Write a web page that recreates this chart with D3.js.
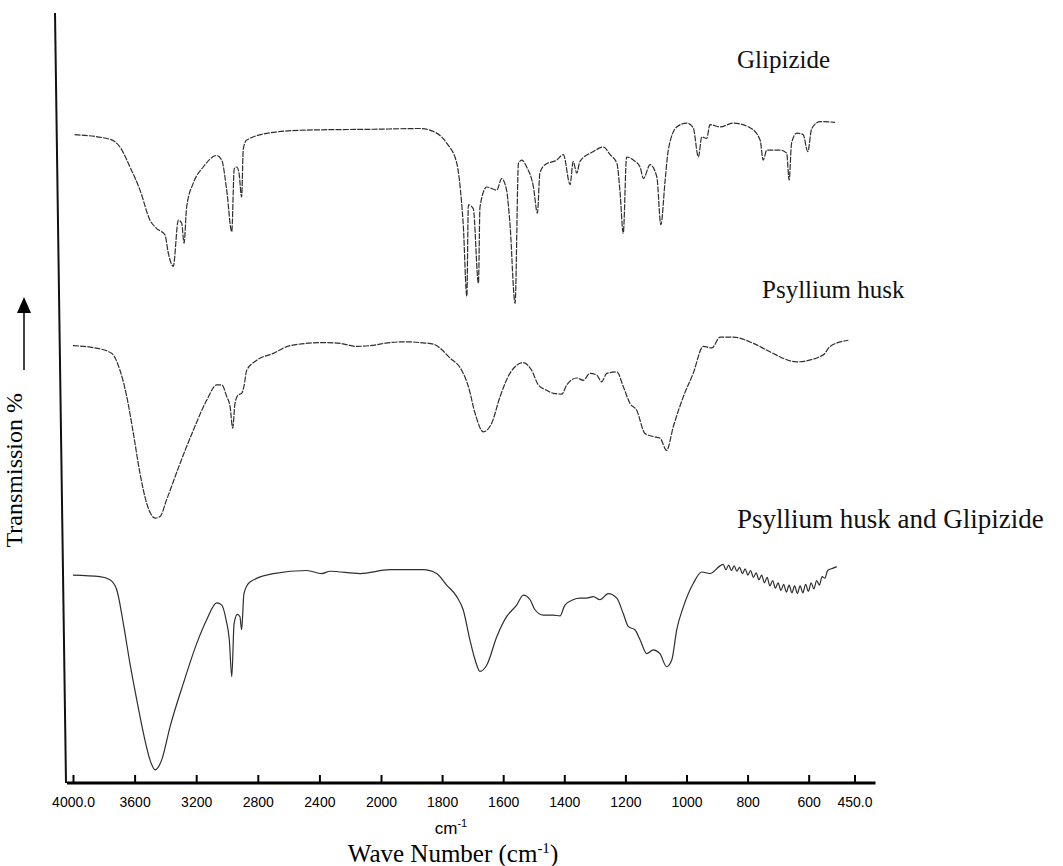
<!DOCTYPE html>
<html>
<head>
<meta charset="utf-8">
<script src="https://cdn.jsdelivr.net/npm/d3@7"></script>
<style>
  body { margin: 0; background: #fff; }
  svg { display: block; }
  .tick text { font-family: "Liberation Sans", Arial, sans-serif; font-size: 14px; }
  .serif { font-family: "Liberation Serif", "Times New Roman", serif; }
</style>
</head>
<body>
<div class="canvas"></div>
<script>
// spectra as [wavenumber cm-1, transmission (stacked, arbitrary %)]
const glipizide = [
  [3990, 84.2], [3760, 83.6], [3695, 82.6], [3630, 80.0], [3565, 77.0], [3500, 73.1],
  [3456, 72.0], [3403, 71.2], [3381, 68.8], [3349, 67.1], [3316, 73.1], [3294, 72.7],
  [3279, 70.1], [3262, 74.8], [3219, 77.9], [3154, 80.0], [3067, 81.5], [3034, 80.9],
  [3002, 77.0], [2969, 71.6], [2953, 79.8], [2937, 80.0], [2922, 79.2], [2905, 76.1],
  [2894, 82.4], [2872, 83.5], [2699, 84.5], [2482, 84.8], [2050, 84.9], [1872, 85.0],
  [1818, 84.4], [1785, 83.1], [1752, 80.5], [1736, 75.3], [1731, 72.7], [1719, 63.2],
  [1714, 75.1], [1698, 74.6], [1681, 64.9], [1676, 74.8], [1654, 77.4], [1621, 77.0],
  [1605, 78.5], [1589, 77.0], [1578, 72.7], [1561, 62.3], [1550, 80.5], [1539, 80.9],
  [1523, 80.0], [1501, 77.4], [1488, 74.0], [1480, 79.2], [1463, 80.3], [1425, 80.9],
  [1403, 81.6], [1381, 77.7], [1371, 80.7], [1359, 79.2], [1349, 80.7], [1305, 82.0],
  [1272, 82.6], [1250, 81.6], [1228, 80.5], [1218, 77.0], [1207, 71.4], [1196, 81.3],
  [1174, 80.9], [1152, 80.0], [1141, 78.5], [1119, 80.3], [1097, 78.7], [1084, 72.5],
  [1070, 78.2], [1060, 82.1], [1032, 85.2], [999, 85.7], [978, 85.1], [961, 81.3],
  [950, 83.9], [934, 83.7], [923, 85.5], [890, 85.2], [847, 85.7], [792, 85.1],
  [759, 83.5], [749, 80.9], [737, 82.2], [694, 82.2], [672, 81.8], [664, 78.3],
  [656, 83.1], [639, 84.4], [618, 84.2], [603, 82.0], [590, 85.0], [563, 85.9], [514, 85.8]
];

const psyllium = [
  [4000, 56.8], [3857, 56.5], [3749, 55.8], [3695, 53.6], [3651, 50.2], [3608, 45.4],
  [3565, 40.2], [3521, 36.3], [3467, 34.4], [3435, 34.6], [3392, 36.8], [3305, 41.5],
  [3219, 45.8], [3132, 49.7], [3067, 51.7], [3034, 51.7], [3002, 50.2], [2980, 48.9],
  [2963, 46.1], [2948, 49.3], [2927, 50.4], [2905, 50.6], [2890, 51.5], [2872, 53.6],
  [2807, 54.9], [2699, 55.8], [2591, 56.8], [2375, 57.2], [2266, 57.1], [2158, 56.7],
  [2071, 56.8], [1970, 57.2], [1916, 57.3], [1872, 57.2], [1829, 57.0], [1774, 55.2],
  [1736, 53.6], [1714, 51.5], [1692, 48.0], [1665, 45.6], [1638, 46.7], [1610, 50.2],
  [1578, 53.2], [1534, 54.6], [1507, 53.6], [1485, 51.7], [1458, 51.0], [1436, 50.6],
  [1408, 50.5], [1392, 51.7], [1359, 52.6], [1338, 52.3], [1316, 53.2], [1294, 53.0],
  [1278, 52.1], [1261, 53.2], [1228, 53.4], [1207, 51.5], [1185, 49.3], [1163, 48.4],
  [1136, 45.4], [1109, 45.0], [1087, 44.8], [1065, 43.2], [1043, 46.3], [1010, 50.2],
  [978, 53.2], [945, 56.7], [917, 56.5], [890, 57.9], [847, 57.9], [781, 57.1],
  [727, 56.0], [639, 54.7], [552, 55.6], [530, 56.7], [470, 57.5]
];

const mixture = [
  [4000, 27.0], [3825, 26.8], [3760, 26.4], [3716, 25.1], [3673, 20.7], [3630, 15.5],
  [3586, 10.8], [3543, 6.5], [3500, 3.0], [3467, 1.7], [3424, 3.0], [3370, 7.3],
  [3284, 12.9], [3197, 18.1], [3132, 21.2], [3067, 23.4], [3034, 23.1], [3006, 21.2],
  [2985, 18.6], [2969, 13.8], [2954, 20.7], [2933, 21.9], [2916, 21.6], [2905, 19.9],
  [2890, 24.6], [2851, 26.1], [2699, 27.2], [2482, 27.6], [2385, 27.2], [2331, 27.5],
  [2136, 27.2], [1970, 27.7], [1862, 27.7], [1818, 27.2], [1785, 25.7], [1752, 24.2],
  [1731, 22.5], [1709, 18.6], [1692, 16.0], [1676, 14.5], [1654, 15.3], [1621, 19.0],
  [1589, 21.6], [1556, 23.1], [1534, 24.4], [1512, 23.8], [1496, 22.5], [1469, 21.8],
  [1436, 21.8], [1414, 21.7], [1398, 23.1], [1371, 23.8], [1349, 24.0], [1327, 24.0],
  [1305, 24.2], [1283, 23.8], [1256, 24.6], [1228, 24.0], [1207, 22.0], [1190, 20.3],
  [1169, 19.9], [1152, 18.6], [1130, 16.8], [1109, 17.3], [1087, 16.8], [1065, 15.1],
  [1048, 16.0], [1032, 19.9], [1010, 22.9], [978, 25.9], [950, 27.4], [923, 27.2],
  [890, 28.2], [880, 28.4], [871, 27.7], [862, 28.3], [853, 27.6], [844, 28.2],
  [835, 27.5], [826, 28.0], [817, 27.2], [808, 27.8], [799, 27.0], [790, 27.6],
  [781, 26.7], [772, 27.3], [763, 26.4], [754, 27.0], [745, 26.0], [736, 26.7],
  [727, 25.6], [718, 26.3], [709, 25.3], [700, 26.0], [691, 25.0], [682, 25.8],
  [673, 24.8], [664, 25.7], [655, 24.7], [646, 25.6], [637, 24.6], [628, 25.6],
  [619, 24.7], [610, 25.8], [601, 24.9], [592, 26.0], [583, 25.2], [574, 26.3],
  [565, 25.7], [556, 26.8], [547, 26.6], [538, 27.6], [520, 27.9], [508, 28.1]
];

const seriesNames = ['Glipizide', 'Psyllium husk', 'Psyllium husk and Glipizide'];
const tickValues = [4000, 3600, 3200, 2800, 2400, 2000, 1800, 1600, 1400, 1200, 1000, 800, 600, 450];
const tickLabels = ['4000.0', '3600', '3200', '2800', '2400', '2000', '1800', '1600', '1400', '1200', '1000', '800', '600', '450.0'];

const dims = { width: 1063, height: 866 };
const plot = { top: 13, bottom: 783 };

const svg = d3.select('.canvas')
  .append('svg')
  .attr('width', dims.width)
  .attr('height', dims.height);

// FTIR style axis: scale doubles below 2000 cm-1
const x = d3.scaleLinear()
  .domain([4000, 2000, 450])
  .range([73, 381, 854.5]);

const y = d3.scaleLinear()
  .domain([0, 100])
  .range([plot.bottom, plot.top]);

const line = d3.line()
  .x(d => x(d[0]))
  .y(d => y(d[1]))
  .curve(d3.curveMonotoneX);

const spectra = [glipizide, psyllium, mixture];

svg.append('g')
  .selectAll('path')
  .data(spectra)
  .enter()
  .append('path')
    .attr('d', line)
    .attr('fill', 'none')
    .attr('stroke', '#2e2e2e')
    .attr('stroke-width', 1.2)
    .attr('stroke-dasharray', (d, i) => i < 2 ? '6 1.2' : null)
    .attr('stroke-linejoin', 'round');

// series labels
const labelPos = [[737, 68], [762, 298], [737, 528]];
svg.append('g')
  .selectAll('text')
  .data(seriesNames)
  .enter()
  .append('text')
    .attr('class', 'serif')
    .attr('x', (d, i) => labelPos[i][0])
    .attr('y', (d, i) => labelPos[i][1])
    .attr('font-size', (d, i) => i == 2 ? 27 : 25)
    .attr('fill', '#111')
    .text(d => d);

// x axis
const xAxis = d3.axisBottom(x)
  .tickValues(tickValues)
  .tickFormat((d, i) => tickLabels[i])
  .tickSizeInner(-8)
  .tickSizeOuter(0)
  .tickPadding(14);

const axisG = svg.append('g')
  .attr('transform', `translate(0, ${plot.bottom})`)
  .call(xAxis);

axisG.select('.domain').remove();
axisG.selectAll('.tick line').attr('stroke', '#000').attr('stroke-width', 2);
axisG.selectAll('.tick text').attr('fill', '#000');

svg.append('line')
  .attr('x1', x(4000) - 6).attr('x2', x(450) + 21)
  .attr('y1', plot.bottom).attr('y2', plot.bottom)
  .attr('stroke', '#000')
  .attr('stroke-width', 3);

// y axis (slightly tilted in the scan)
svg.append('line')
  .attr('x1', 55).attr('y1', plot.top)
  .attr('x2', 66).attr('y2', plot.bottom)
  .attr('stroke', '#111')
  .attr('stroke-width', 2);

// axis titles
svg.append('text')
  .attr('x', 451)
  .attr('y', 834)
  .attr('text-anchor', 'middle')
  .style('font-family', '"Liberation Sans", Arial, sans-serif')
  .attr('font-size', 17)
  .html('cm<tspan font-size="11" dy="-7">-1</tspan>');

svg.append('text')
  .attr('class', 'serif')
  .attr('x', 453)
  .attr('y', 862)
  .attr('text-anchor', 'middle')
  .attr('font-size', 25)
  .html('Wave Number (cm<tspan font-size="15" dy="-9">-1</tspan><tspan dy="9">)</tspan>');

svg.append('text')
  .attr('class', 'serif')
  .attr('transform', 'translate(22, 393) rotate(-90)')
  .attr('text-anchor', 'end')
  .attr('font-size', 24)
  .text('Transmission %');

// upward arrow
svg.append('line')
  .attr('x1', 24).attr('x2', 24)
  .attr('y1', 310).attr('y2', 370)
  .attr('stroke', '#000')
  .attr('stroke-width', 1.5);

svg.append('path')
  .attr('d', 'M24,297 L17,313 L31,313 Z')
  .attr('fill', '#000');
</script>
</body>
</html>
